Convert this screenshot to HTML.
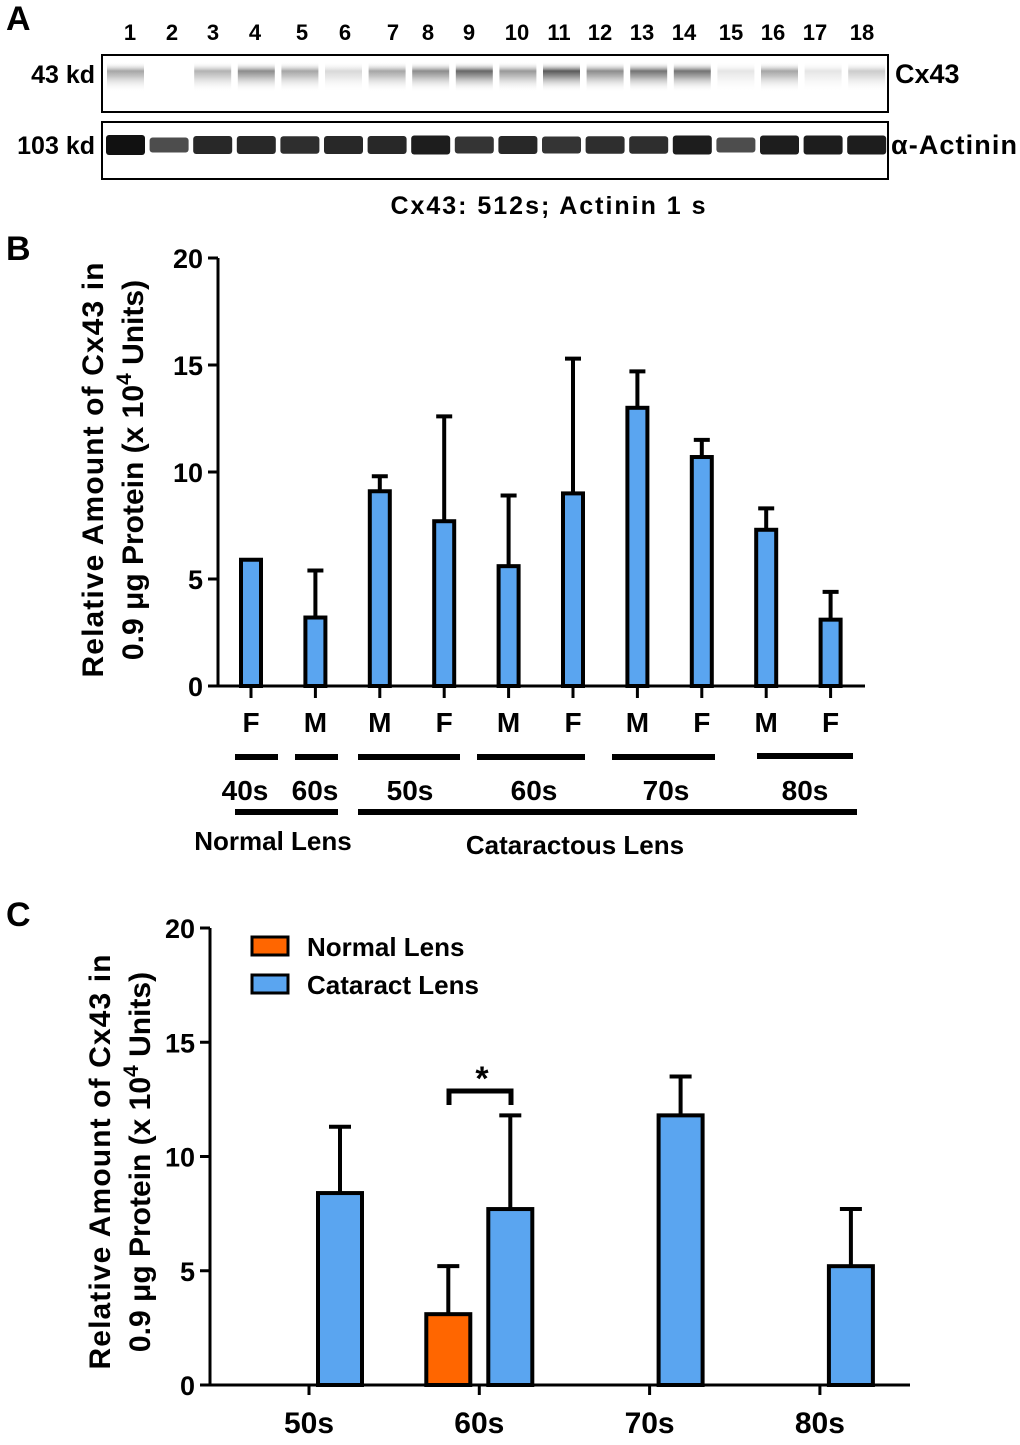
<!DOCTYPE html>
<html><head><meta charset="utf-8">
<style>
body{margin:0;background:#fff;width:1020px;height:1440px;overflow:hidden}
svg text{font-family:"Liberation Sans",sans-serif;font-weight:bold;fill:#000}
</style></head>
<body>
<svg id="fig" width="1020" height="1440" viewBox="0 0 1020 1440">
<defs>
<linearGradient id="bandg" x1="0" y1="0" x2="0" y2="1">
<stop offset="0" stop-color="#fff" stop-opacity="0"/>
<stop offset="0.3" stop-color="#000" stop-opacity="1"/>
<stop offset="0.5" stop-color="#000" stop-opacity="0.6"/>
<stop offset="1" stop-color="#fff" stop-opacity="0"/>
</linearGradient>
</defs>
<text x="6" y="30" font-size="34">A</text>
<g id="lanes"></g>
<text x="95" y="83" font-size="25" text-anchor="end">43 kd</text>
<text x="95" y="154" font-size="25" text-anchor="end">103 kd</text>
<rect x="102" y="55" width="786" height="57" fill="#fff" stroke="#000" stroke-width="2"/>
<rect x="102" y="122" width="786" height="57" fill="#fff" stroke="#000" stroke-width="2"/>
<g id="bands"></g>
<text x="895" y="83" font-size="27">Cx43</text>
<text x="891" y="154" font-size="27" textLength="126">α-Actinin</text>
<text x="548" y="214" font-size="25" text-anchor="middle" textLength="315">Cx43: 512s; Actinin 1 s</text>

<text x="6" y="260" font-size="34">B</text>
<g id="chartB"></g>
<text x="6" y="926" font-size="34">C</text>
<g id="chartC"></g>
</svg>
<script>
const NS="http://www.w3.org/2000/svg";
function mk(p,tag,at,txt){const e=document.createElementNS(NS,tag);for(const k in at)e.setAttribute(k,at[k]);if(txt!==undefined)e.textContent=txt;p.appendChild(e);return e;}

// Panel A
const laneLabels=["1","2","3","4","5","6","7","8","9","10","11","12","13","14","15","16","17","18"];
const laneX=[130,172,213,255,302,345,393,428,469,517,559,600,642,684,731,773,815,862];
const cx43Intensity=[0.35,0,0.3,0.45,0.35,0.15,0.35,0.45,0.6,0.4,0.65,0.45,0.55,0.55,0.1,0.35,0.1,0.2];
const actininIntensity=[1,0.75,0.9,0.9,0.88,0.9,0.9,0.95,0.85,0.9,0.85,0.88,0.88,0.95,0.75,0.95,0.95,0.95];
const lg=document.getElementById('lanes'),bg=document.getElementById('bands');
laneLabels.forEach((l,i)=>{
 const t=mk(lg,'text',{x:laneX[i],y:40,'font-size':22,'text-anchor':'middle'},l);
 
 
 const x0=104+i*43.6;
 const b=mk(bg,'rect',{x:x0+3,y:62,width:37,height:30,fill:'url(#bandg)',opacity:cx43Intensity[i]});
 
 
 const h=20*actininIntensity[i];
 const a=mk(bg,'rect',{x:x0+2,y:145-h/2,width:39,height:h,rx:3,fill:'#111',opacity:actininIntensity[i]});
 
 
});

// Panel B data
const bSex=["F","M","M","F","M","F","M","F","M","F"];
const bValues=[5.9,3.2,9.1,7.7,5.6,9.0,13.0,10.7,7.3,3.1];
const bErrTop=[5.9,5.4,9.8,12.6,8.9,15.3,14.7,11.5,8.3,4.4];
const yTicks=[0,5,10,15,20];
(function(){
 const g=document.getElementById('chartB');
 const x0=218,xEnd=865,y0=686,y20=258;
 const ys=v=>y0-(v/20)*(y0-y20);
 const xs=i=>251+i*64.4;
 bValues.forEach((v,i)=>{
  const cx=xs(i);
  if(bErrTop[i]>v){
   const e=mk(g,'path',{d:`M${cx} ${ys(v)}V${ys(bErrTop[i])}M${cx-8} ${ys(bErrTop[i])}H${cx+8}`,stroke:'#000','stroke-width':4,fill:'none'});
   
   
  }
  const r=mk(g,'rect',{x:cx-10,y:ys(v),width:20,height:y0-ys(v),fill:'#5aa5f0',stroke:'#000','stroke-width':4});
  
  
  mk(g,'line',{x1:cx,x2:cx,y1:y0,y2:y0+12,stroke:'#000','stroke-width':3});
  const t=mk(g,'text',{x:cx,y:732,'font-size':28,'text-anchor':'middle','font-weight':'normal'},bSex[i]);
  
  
 });
 const ax=mk(g,'path',{d:`M${x0} ${y20}V${y0}H${xEnd}`,stroke:'#000','stroke-width':3,fill:'none'});
 
 
 yTicks.forEach(v=>{
  mk(g,'line',{x1:x0-10,x2:x0,y1:ys(v),y2:ys(v),stroke:'#000','stroke-width':3});
  const t=mk(g,'text',{x:x0-15,y:ys(v)+10,'font-size':27,'text-anchor':'end','font-weight':'normal'},v);
  
  
 });
 const yt=mk(g,'text',{transform:'translate(103,470) rotate(-90)','font-size':30,'text-anchor':'middle',textLength:415},'Relative Amount of  Cx43 in');
 
 
 const yt2=mk(g,'text',{transform:'translate(143,470) rotate(-90)','font-size':30,'text-anchor':'middle'});
 yt2.innerHTML='0.9 μg Protein (x 10<tspan dy="-12" font-size="21">4</tspan><tspan dy="12"> Units)</tspan>';
 
 
 const segs=[[235,278,757],[295,338,757],[358,460,757],[477,585,757],[612,715,757],[757,853,756],[235,338,812],[358,857,812]];
 segs.forEach(s=>mk(g,'line',{x1:s[0],x2:s[1],y1:s[2],y2:s[2],stroke:'#000','stroke-width':6}));
 [["40s",245],["60s",315],["50s",410],["60s",534],["70s",666],["80s",805]].forEach(a=>{
  const t=mk(g,'text',{x:a[1],y:800,'font-size':28,'text-anchor':'middle'},a[0]);
  
  
 });
 const n=mk(g,'text',{x:273,y:850,'font-size':26,'text-anchor':'middle','font-weight':'normal'},'Normal Lens');
 
 const c=mk(g,'text',{x:575,y:854,'font-size':26,'text-anchor':'middle','font-weight':'normal'},'Cataractous Lens');
 
})();

// Panel C data
const cCategories=["50s","60s","70s","80s"];
const cNormal=[null,3.1,null,null];
const cNormalErr=[null,5.2,null,null];
const cCataract=[8.4,7.7,11.8,5.2];
const cCataractErr=[11.3,11.8,13.5,7.7];
(function(){
 const g=document.getElementById('chartC');
 const x0=210,xEnd=910,y0=1385,y20=928;
 const ys=v=>y0-(v/20)*(y0-y20);
 const gx=i=>309+i*170.3;
 function bar(cx,v,e,fill,name){
  const p=mk(g,'path',{d:`M${cx} ${ys(v)}V${ys(e)}M${cx-11} ${ys(e)}H${cx+11}`,stroke:'#000','stroke-width':4,fill:'none'});
  
  
  const r=mk(g,'rect',{x:cx-22,y:ys(v),width:44,height:y0-ys(v),fill:fill,stroke:'#000','stroke-width':4});
  
  
 }
 cCategories.forEach((c,i)=>{
  if(cNormal[i]!=null)bar(gx(i)-31,cNormal[i],cNormalErr[i],'#ff6600','bar-normal-'+c);
  bar(gx(i)+31,cCataract[i],cCataractErr[i],'#5aa5f0','bar-cataract-'+c);
  mk(g,'line',{x1:gx(i),x2:gx(i),y1:y0,y2:y0+10,stroke:'#000','stroke-width':3});
  const t=mk(g,'text',{x:gx(i),y:1433,'font-size':30,'text-anchor':'middle'},c);
  
  
 });
 const ax=mk(g,'path',{d:`M${x0} ${y20}V${y0}H${xEnd}`,stroke:'#000','stroke-width':3,fill:'none'});
 
 
 yTicks.forEach(v=>{
  mk(g,'line',{x1:x0-10,x2:x0,y1:ys(v),y2:ys(v),stroke:'#000','stroke-width':3});
  const t=mk(g,'text',{x:x0-15,y:ys(v)+10,'font-size':27,'text-anchor':'end','font-weight':'normal'},v);
  
  
 });
 const yt=mk(g,'text',{transform:'translate(110,1162) rotate(-90)','font-size':30,'text-anchor':'middle',textLength:415},'Relative Amount of  Cx43 in');
 
 
 const yt2=mk(g,'text',{transform:'translate(150,1162) rotate(-90)','font-size':30,'text-anchor':'middle'});
 yt2.innerHTML='0.9 μg Protein (x 10<tspan dy="-12" font-size="21">4</tspan><tspan dy="12"> Units)</tspan>';
 
 
 const sig=mk(g,'path',{d:'M449 1105V1091H511V1105',stroke:'#000','stroke-width':5,fill:'none'});
 
 
 const st=mk(g,'text',{x:482,y:1090,'font-size':34,'text-anchor':'middle'},'*');
 
 
 const l1=mk(g,'rect',{x:252,y:937,width:36,height:18,fill:'#ff6600',stroke:'#000','stroke-width':3});
 
 const t1=mk(g,'text',{x:307,y:956,'font-size':26,'font-weight':'normal'},'Normal Lens');
 
 const l2=mk(g,'rect',{x:252,y:975,width:36,height:18,fill:'#5aa5f0',stroke:'#000','stroke-width':3});
 
 const t2=mk(g,'text',{x:307,y:994,'font-size':26,'font-weight':'normal'},'Cataract Lens');
 
})();
</script>
</body></html>
